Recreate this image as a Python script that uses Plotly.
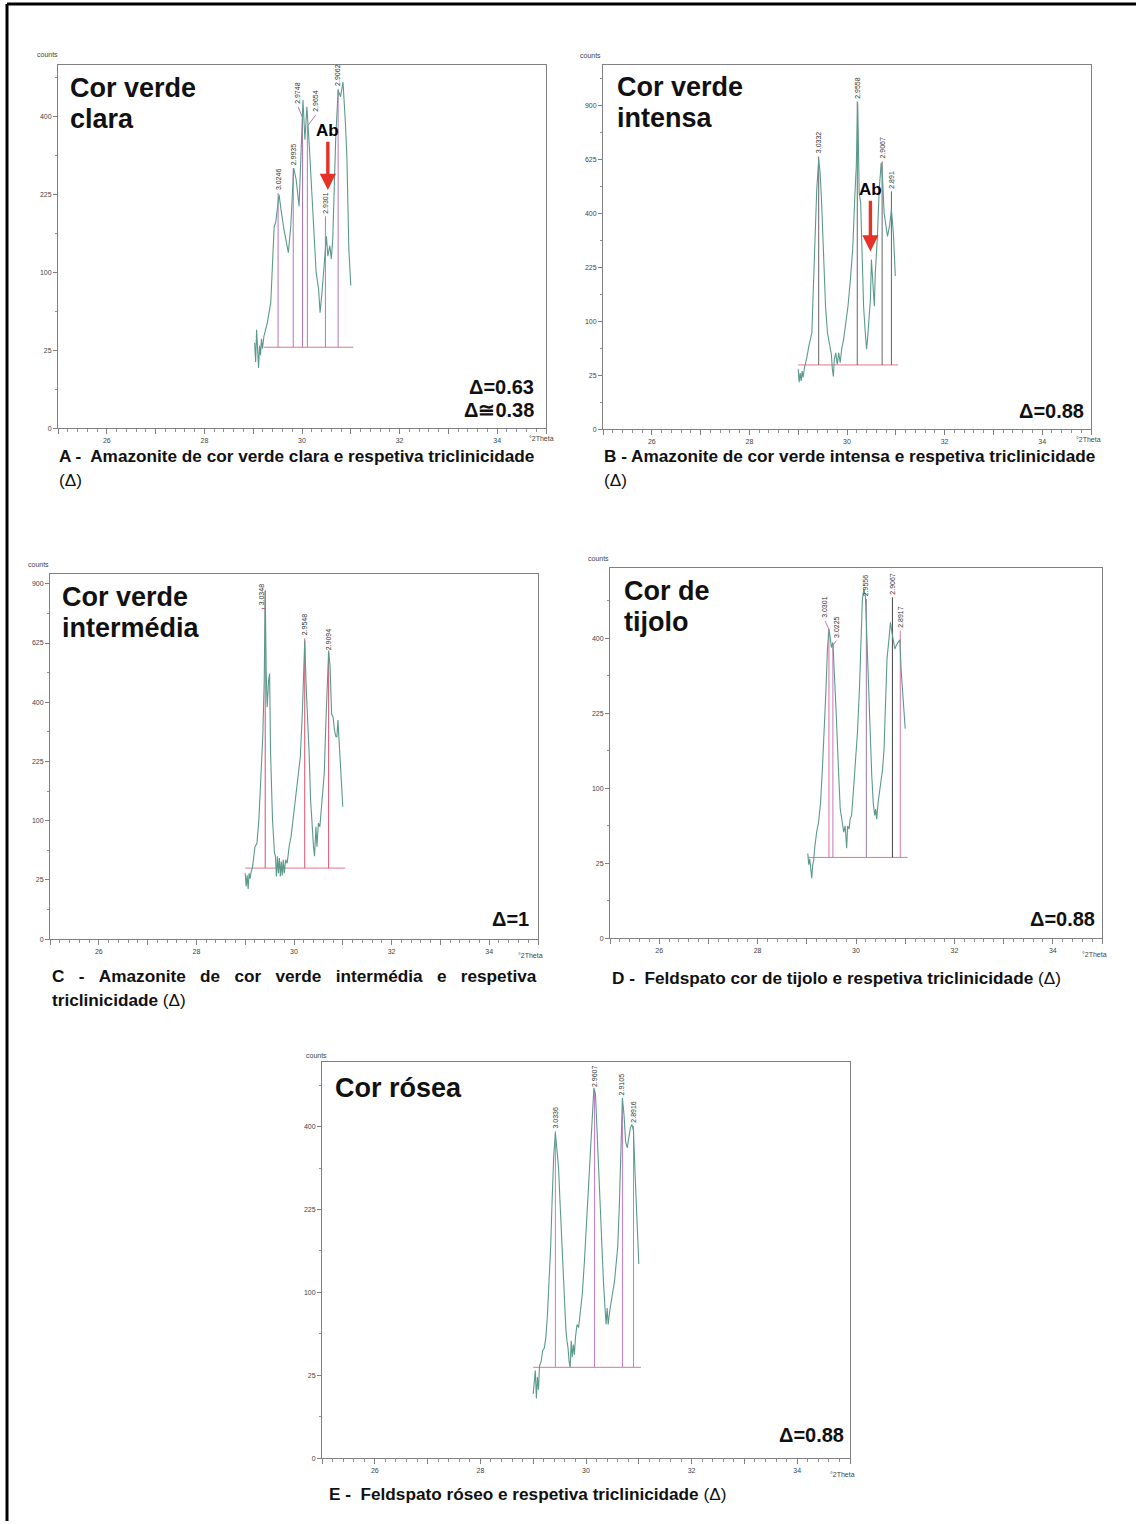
import plotly.graph_objects as go
import numpy as np

W, H = 1136, 1524

# ---------------- data (2theta in degrees, intensity in counts) ----------------
A_tth = [29.03, 29.05, 29.07, 29.09, 29.11, 29.13, 29.15, 29.17, 29.19, 29.22, 29.29, 29.36, 29.39, 29.43, 29.46,
         29.53, 29.57, 29.63, 29.72, 29.77, 29.83, 29.88, 29.94, 29.98, 30.02, 30.06, 30.10, 30.15, 30.22, 30.29,
         30.34, 30.37, 30.41, 30.46, 30.50, 30.53, 30.57, 30.60, 30.63, 30.69, 30.74, 30.79, 30.84, 30.89, 30.92,
         30.96, 31.00]
A_counts = [30, 18, 40, 20, 15, 28, 22, 33, 26, 35, 46, 65, 100, 168, 174,
            225, 197, 163, 127, 168, 279, 255, 203, 319, 444, 343, 426, 327, 203, 100,
            80, 55, 76, 122, 152, 122, 137, 118, 147, 343, 471, 453, 494, 383, 304,
            132, 84]
A_peak_tth = [29.51, 29.82, 30.01, 30.11, 30.48, 30.74]
A_peak_lbl = ["3.0246", "2.9935", "2.9748", "2.9654", "2.9301", "2.9062"]
A_peak_top = [228, 279, 398, 376, 185, 475]
A_lab_tth = [29.51, 29.82, 29.92, 30.28, 30.48, 30.74]
A_lab_cnt = [228, 279, 426, 404, 185, 475]
A_base = 27
A_base_rng = [29.22, 31.05]

B_tth = [29.00, 29.02, 29.04, 29.06, 29.08, 29.10, 29.13, 29.17, 29.22, 29.28, 29.30, 29.34, 29.38, 29.42, 29.45,
         29.48, 29.52, 29.56, 29.60, 29.64, 29.68, 29.70, 29.72, 29.74, 29.77, 29.80, 29.83, 29.86, 29.89, 29.93,
         29.97, 30.02, 30.07, 30.12, 30.16, 30.19, 30.22, 30.25, 30.28, 30.31, 30.34, 30.37, 30.40, 30.42, 30.45,
         30.48, 30.50, 30.53, 30.56, 30.58, 30.62, 30.66, 30.70, 30.73, 30.76, 30.80, 30.83, 30.87, 30.91, 30.95,
         30.99]
B_counts = [31, 19, 27, 20, 29, 23, 33, 42, 60, 80, 138, 288, 494, 625, 565,
            440, 229, 130, 80, 60, 48, 31, 24, 42, 50, 36, 50, 38, 55, 69,
            92, 130, 193, 288, 467, 594, 915, 480, 440, 250, 130, 85, 55, 69, 98,
            145, 248, 193, 130, 210, 310, 494, 610, 536, 402, 354, 320, 354, 415, 332,
            202]
B_peak_tth = [29.42, 30.21, 30.72, 30.91]
B_peak_lbl = ["3.0332", "2.9558", "2.9067", "2.891"]
B_peak_top = [640, 924, 617, 487]
B_lab_tth = [29.42, 30.21, 30.72, 30.91]
B_lab_cnt = [640, 924, 617, 487]
B_base = 35.5
B_base_rng = [29.0, 31.05]

C_tth = [29.00, 29.02, 29.04, 29.06, 29.08, 29.10, 29.12, 29.15, 29.20, 29.24, 29.28, 29.32, 29.36, 29.39, 29.41,
         29.43, 29.45, 29.48, 29.50, 29.52, 29.56, 29.60, 29.62, 29.64, 29.66, 29.68, 29.70, 29.72, 29.74, 29.76,
         29.78, 29.80, 29.83, 29.86, 29.90, 29.94, 29.98, 30.02, 30.06, 30.10, 30.13, 30.17, 30.20, 30.22, 30.25,
         30.28, 30.31, 30.34, 30.37, 30.40, 30.42, 30.45, 30.47, 30.50, 30.53, 30.56, 30.59, 30.62, 30.65, 30.68,
         30.71, 30.74, 30.77, 30.80, 30.83, 30.86, 30.88, 30.90, 30.92, 30.95, 30.98, 31.00]
C_counts = [31, 20, 29, 18, 31, 26, 32, 37, 61, 65, 101, 180, 292, 478, 866,
            515, 384, 478, 503, 246, 101, 53, 49, 28, 49, 31, 47, 28, 43, 29,
            45, 31, 45, 41, 61, 75, 101, 125, 166, 204, 237, 362, 503, 636, 453,
            352, 246, 138, 85, 61, 49, 90, 61, 96, 90, 125, 166, 196, 321, 478,
            594, 528, 362, 352, 311, 292, 292, 342, 292, 204, 166, 125]
C_peak_tth = [29.41, 30.22, 30.71]
C_peak_lbl = ["3.0348", "2.9548", "2.9094"]
C_peak_top = [866, 644, 581]
C_lab_tth = [29.34, 30.22, 30.71]
C_lab_cnt = [779, 644, 581]
C_base = 36
C_base_rng = [29.0, 31.05]

D_tth = [29.02, 29.04, 29.06, 29.08, 29.10, 29.12, 29.14, 29.16, 29.18, 29.20, 29.24, 29.28, 29.32, 29.35, 29.39,
         29.42, 29.45, 29.48, 29.50, 29.53, 29.56, 29.60, 29.64, 29.68, 29.72, 29.75, 29.78, 29.81, 29.83, 29.86,
         29.88, 29.91, 29.95, 29.99, 30.03, 30.07, 30.10, 30.13, 30.16, 30.19, 30.22, 30.25, 30.28, 30.32, 30.35,
         30.38, 30.40, 30.42, 30.45, 30.48, 30.51, 30.54, 30.57, 30.60, 30.63, 30.67, 30.70, 30.73, 30.76, 30.79,
         30.82, 30.86, 30.89, 30.92, 30.96, 31.00]
D_counts = [32, 24, 28, 20, 16, 24, 27, 36, 44, 50, 60, 82, 132, 177, 276,
            372, 425, 398, 376, 389, 323, 220, 132, 74, 60, 50, 56, 36, 56, 53,
            63, 67, 99, 138, 189, 276, 389, 512, 542, 522, 407, 291, 189, 118, 82,
            67, 74, 63, 82, 95, 108, 127, 159, 234, 347, 398, 444, 416, 398, 372,
            382, 389, 396, 315, 255, 195]
D_peak_tth = [29.45, 29.53, 30.21, 30.74, 30.90]
D_peak_lbl = ["3.0301", "3.0225", "2.9556", "2.9067", "2.8917"]
D_peak_top = [425, 381, 512, 517, 421]
D_lab_tth = [29.37, 29.60, 30.21, 30.74, 30.90]
D_lab_cnt = [448, 394, 512, 517, 421]
D_base = 29
D_base_rng = [29.02, 31.05]

E_tth = [29.00, 29.02, 29.04, 29.06, 29.08, 29.10, 29.12, 29.15, 29.18, 29.21, 29.24, 29.27, 29.30, 29.33, 29.36,
         29.39, 29.42, 29.45, 29.48, 29.51, 29.55, 29.59, 29.62, 29.64, 29.66, 29.68, 29.70, 29.72, 29.74, 29.76,
         29.78, 29.80, 29.83, 29.86, 29.89, 29.93, 29.97, 30.01, 30.05, 30.09, 30.12, 30.15, 30.18, 30.21, 30.24,
         30.27, 30.30, 30.33, 30.36, 30.38, 30.40, 30.42, 30.45, 30.48, 30.51, 30.54, 30.57, 30.60, 30.63, 30.66,
         30.69, 30.72, 30.75, 30.78, 30.81, 30.84, 30.87, 30.90, 30.93, 30.96, 30.98, 31.00]
E_counts = [15, 24, 28, 13, 24, 17, 31, 34, 42, 44, 53, 75, 106, 161, 247,
            335, 385, 350, 307, 234, 151, 98, 59, 50, 44, 34, 30, 50, 37, 47,
            39, 53, 65, 62, 79, 98, 141, 204, 279, 350, 429, 499, 481, 389, 293,
            210, 151, 114, 82, 65, 82, 65, 79, 90, 106, 114, 137, 161, 228, 350,
            472, 429, 365, 350, 373, 397, 405, 389, 293, 216, 161, 137]
E_peak_tth = [29.42, 30.16, 30.69, 30.90]
E_peak_lbl = ["3.0336", "2.9607", "2.9105", "2.8916"]
E_peak_top = [389, 494, 472, 401]
E_lab_tth = [29.42, 30.16, 30.69, 30.90]
E_lab_cnt = [389, 494, 472, 401]
E_base = 30
E_base_rng = [29.0, 31.04]

Y_TICKS = [0, 25, 100, 225, 400, 625, 900]
X_TICKS = [26, 28, 30, 32, 34]

# --------------- panel layout / styling (pixels) ---------------
CURVE = "#5b9a8b"
BASE_COL = "#e8728c"
NB = "\u00a0"
DL = "</b>(\u0394)"
panels = [
    dict(tth=A_tth, cnt=A_counts, pk=A_peak_tth, lbl=A_peak_lbl, top=A_peak_top, lx=A_lab_tth, ly=A_lab_cnt,
         attach=A_peak_top, base=A_base, brng=A_base_rng, box=(58, 65, 546, 429), ytop=23.33,
         vcol=["#b774b7"] * 6,
         title=["Cor verde", "clara"], tpos=(68, 88, 31), delta=["\u0394=0.63", "\u0394\u22450.38"],
         dpos=(536, 388, 23),
         cap=["A -  Amazonite de cor verde clara e respetiva triclinicidade", DL], cpos=(57, 457, 24),
         counts=(47, 55), theta=(541, 439), ab=dict(x=30.53, tip=234, txt=365)),
    dict(tth=B_tth, cnt=B_counts, pk=B_peak_tth, lbl=B_peak_lbl, top=B_peak_top, lx=B_lab_tth, ly=B_lab_cnt,
         attach=B_peak_top, base=B_base, brng=B_base_rng, box=(603, 65, 1091, 430), ytop=33.8,
         vcol=["#666666"] * 4,
         title=["Cor verde", "intensa"], tpos=(615, 87, 31), delta=["\u0394=0.88"], dpos=(1086, 412, 23),
         cap=["B - Amazonite de cor verde intensa e respetiva triclinicidade", DL], cpos=(602, 457, 24),
         counts=(591, 56), theta=(1088, 440), ab=dict(x=30.48, tip=272, txt=493)),
    dict(tth=C_tth, cnt=C_counts, pk=C_peak_tth, lbl=C_peak_lbl, top=C_peak_top, lx=C_lab_tth, ly=C_lab_cnt,
         attach=[779, 644, 581], base=C_base, brng=C_base_rng, box=(50, 575, 538, 941), ytop=30.84,
         vcol=["#d9506e"] * 3,
         title=["Cor verde", "intermédia"], tpos=(60, 598, 31), delta=["\u0394=1"], dpos=(531, 921, 23),
         cap=[(NB * 3).join(["C", "-", "Amazonite", "de", "cor", "verde", "intermédia", "e", "respetiva"]),
              "triclinicidade " + DL], cpos=(50, 978, 24),
         counts=(38, 566), theta=(530, 957), ab=None),
    dict(tth=D_tth, cnt=D_counts, pk=D_peak_tth, lbl=D_peak_lbl, top=D_peak_top, lx=D_lab_tth, ly=D_lab_cnt,
         attach=D_peak_top, base=D_base, brng=D_base_rng, box=(610, 569, 1102, 940), ytop=24.7,
         vcol=["#e0709a", "#c87ab8", "#9a7aa8", "#444444", "#d878a8"],
         title=["Cor de", "tijolo"], tpos=(622, 592, 31), delta=["\u0394=0.88"], dpos=(1097, 921, 23),
         cap=["D -  Feldspato cor de tijolo e respetiva triclinicidade " + DL], cpos=(610, 980, 24),
         counts=(598, 560), theta=(1094, 956), ab=None),
    dict(tth=E_tth, cnt=E_counts, pk=E_peak_tth, lbl=E_peak_lbl, top=E_peak_top, lx=E_lab_tth, ly=E_lab_cnt,
         attach=E_peak_top, base=E_base, brng=E_base_rng, box=(322, 1064, 850, 1461), ytop=23.9,
         vcol=["#c77ac7"] * 4,
         title=["Cor rósea"], tpos=(333, 1090, 31), delta=["\u0394=0.88"], dpos=(846, 1438, 23),
         cap=["E -  Feldspato róseo e respetiva triclinicidade " + DL], cpos=(327, 1497, 24),
         counts=(316, 1058), theta=(842, 1477), ab=None),
]

FONT = "Liberation Sans, Arial, sans-serif"
fig = go.Figure()
layout = dict(width=W, height=H, margin=dict(l=0, r=0, t=0, b=0), paper_bgcolor="white",
              plot_bgcolor="white", showlegend=False)
annotations = []
shapes = []


def px(x):
    return x / W


def py(y):
    return 1 - y / H


for i, p in enumerate(panels, start=1):
    xa = "x" if i == 1 else f"x{i}"
    ya = "y" if i == 1 else f"y{i}"
    xk = "xaxis" if i == 1 else f"xaxis{i}"
    yk = "yaxis" if i == 1 else f"yaxis{i}"
    x0, y0, x1, y1 = p["box"]
    layout[xk] = dict(domain=[px(x0), px(x1)], range=[25, 35], anchor=ya, showgrid=False, zeroline=False,
                      showline=True, linecolor="#808080", linewidth=1, mirror=True,
                      ticks="outside", ticklen=5, tickcolor="#808080", tickwidth=1,
                      tickmode="array", tickvals=list(range(25, 36)),
                      ticktext=[str(v) if v in X_TICKS else "" for v in range(25, 36)],
                      tickfont=dict(size=7, color="#444", family=FONT),
                      minor=dict(dtick=0.2, tick0=25, ticklen=3, ticks="outside", tickcolor="#909090",
                                 showgrid=False))
    yt = [v for v in Y_TICKS if np.sqrt(v) <= p["ytop"]]
    layout[yk] = dict(domain=[py(y1), py(y0)], range=[0, p["ytop"]], anchor=xa, showgrid=False,
                      zeroline=False, showline=True, linecolor="#808080", linewidth=1, mirror=True,
                      ticks="outside", ticklen=4, tickcolor="#808080",
                      tickmode="array", tickvals=[float(np.sqrt(v)) for v in yt], ticktext=[str(v) for v in yt],
                      tickfont=dict(size=7, color="#444", family=FONT),
                      minor=dict(dtick=2.5, tick0=0, ticklen=2, ticks="outside", tickcolor="#909090",
                                 showgrid=False))

    # baseline
    fig.add_trace(go.Scatter(x=p["brng"], y=[np.sqrt(p["base"])] * 2, mode="lines",
                             line=dict(color=BASE_COL, width=1), xaxis=xa, yaxis=ya, hoverinfo="skip"))
    # peak marker lines
    for k in range(len(p["pk"])):
        xs = [p["pk"][k], p["pk"][k], None, p["pk"][k], p["lx"][k]]
        ys = [np.sqrt(p["base"]), np.sqrt(p["top"][k]), None, np.sqrt(p["attach"][k]), np.sqrt(p["ly"][k])]
        fig.add_trace(go.Scatter(x=xs, y=ys, mode="lines", line=dict(color=p["vcol"][k], width=1),
                                 xaxis=xa, yaxis=ya, hoverinfo="skip", connectgaps=False))
        annotations.append(dict(x=p["lx"][k], y=float(np.sqrt(p["ly"][k])), xref=xa, yref=ya,
                                text=p["lbl"][k], textangle=-90, showarrow=False, xanchor="center",
                                yanchor="bottom", yshift=1, font=dict(size=7, color="#333", family=FONT)))
    # diffractogram
    fig.add_trace(go.Scatter(x=p["tth"], y=np.sqrt(p["cnt"]), mode="lines",
                             line=dict(color=CURVE, width=1.1), xaxis=xa, yaxis=ya, name="counts"))

    # albite arrow
    if p["ab"]:
        ab = p["ab"]
        annotations.append(dict(x=ab["x"], y=float(np.sqrt(ab["tip"])), xref=xa, yref=ya,
                                ax=ab["x"], ay=float(np.sqrt(ab["txt"])), axref=xa, ayref=ya,
                                text="<b>Ab</b>", showarrow=True, arrowhead=2, arrowsize=0.95,
                                arrowwidth=3.4, arrowcolor="#e53226", standoff=0, startstandoff=0,
                                font=dict(size=17, color="black", family=FONT)))

    # title inside the panel
    tx, tyc, tgap = p["tpos"]
    for j, line in enumerate(p["title"]):
        annotations.append(dict(x=px(tx), y=py(tyc + j * tgap), xref="paper", yref="paper",
                                text=f"<b>{line}</b>", showarrow=False, xanchor="left", yanchor="middle",
                                font=dict(size=27, color="#111", family=FONT)))
    # triclinicity
    dx, dyc, dgap = p["dpos"]
    for j, line in enumerate(p["delta"]):
        annotations.append(dict(x=px(dx), y=py(dyc + j * dgap), xref="paper", yref="paper",
                                text=f"<b>{line}</b>", showarrow=False, xanchor="right", yanchor="middle",
                                font=dict(size=20, color="#111", family=FONT)))
    # caption
    cx, cyc, cgap = p["cpos"]
    for j, line in enumerate(p["cap"]):
        annotations.append(dict(x=px(cx), y=py(cyc + j * cgap), xref="paper", yref="paper",
                                text=f"<b>{line}</b>", showarrow=False, xanchor="left", yanchor="middle",
                                font=dict(size=17.2, color="#111", family=FONT)))
    # axis names
    annotations.append(dict(x=px(p["counts"][0]), y=py(p["counts"][1]), xref="paper", yref="paper",
                            text="counts", showarrow=False, xanchor="center", yanchor="middle",
                            font=dict(size=7, color="#444", family=FONT)))
    annotations.append(dict(x=px(p["theta"][0]), y=py(p["theta"][1]), xref="paper", yref="paper",
                            text="°2Theta", showarrow=False, xanchor="center", yanchor="middle",
                            font=dict(size=7, color="#444", family=FONT)))

# page frame (left and top edges)
shapes.append(dict(type="line", xref="paper", yref="paper", x0=px(7), x1=px(7), y0=0, y1=py(4),
                   line=dict(color="black", width=3)))
shapes.append(dict(type="line", xref="paper", yref="paper", x0=px(7), x1=1, y0=py(4), y1=py(4),
                   line=dict(color="black", width=3)))

layout["annotations"] = annotations
layout["shapes"] = shapes
fig.update_layout(**layout)
fig.write_html("out.html")
